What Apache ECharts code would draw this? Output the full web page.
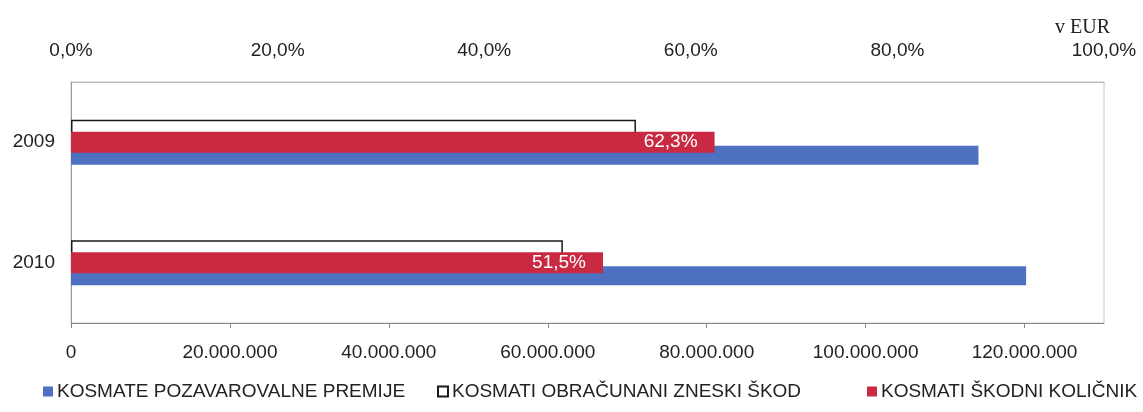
<!DOCTYPE html>
<html>
<head>
<meta charset="utf-8">
<script src="https://cdn.jsdelivr.net/npm/echarts@6/dist/echarts.min.js"></script>
<style>html,body{margin:0;padding:0;background:#fff;}#c{width:1143px;height:412px;}</style>
</head>
<body>
<div id="c"></div>
<script>
const categories = ['2009', '2010'];
const premiums = [114200000, 120200000];
const claims = [71100000, 61900000];
const ratios = [62.3, 51.5];
const amountTicks = [0, 20000000, 40000000, 60000000, 80000000, 100000000, 120000000];
const percentTicks = [0, 20, 40, 60, 80, 100];
const seriesNames = ['KOSMATE POZAVAROVALNE PREMIJE', 'KOSMATI OBRAČUNANI ZNESKI ŠKOD', 'KOSMATI ŠKODNI KOLIČNIK'];

function fmtAmount(v) {
  return String(Math.round(v)).replace(/\B(?=(\d{3})+(?!\d))/g, '.');
}
function fmtPct(v) {
  return v.toFixed(1).replace('.', ',') + '%';
}
const FONT = 'Liberation Sans';
const legendBase = {
  top: 377, itemWidth: 10, itemHeight: 10, icon: 'rect', itemGap: 0,
  textStyle: { fontFamily: FONT, fontSize: 19, color: '#222', padding: [0, 0, 0, -1] }
};
const chart = echarts.init(document.getElementById('c'));
chart.setOption({
  animation: false,
  backgroundColor: '#fff',
  title: {
    text: 'v EUR', right: 28, top: 13,
    textStyle: { fontFamily: 'Liberation Serif', fontSize: 20, fontWeight: 'normal', color: '#222' }
  },
  grid: { left: 71, right: 39, top: 82, bottom: 89, show: true, borderColor: '#c8c8c8', borderWidth: 1 },
  legend: [
    Object.assign({}, legendBase, { left: 38, data: [seriesNames[0]] }),
    Object.assign({}, legendBase, { left: 432, data: [seriesNames[1]] }),
    Object.assign({}, legendBase, { left: 862, data: [seriesNames[2]] })
  ],
  xAxis: [
    {
      type: 'value', position: 'bottom', min: 0, max: 130000000, interval: 20000000,
      axisLine: { show: true, lineStyle: { color: '#888', width: 1 } },
      axisTick: { show: true, length: 5, lineStyle: { color: '#888' }, customValues: amountTicks },
      splitLine: { show: false },
      axisLabel: {
        margin: 20, fontFamily: FONT, fontSize: 19, color: '#222',
        customValues: amountTicks,
        formatter: v => fmtAmount(v)
      }
    },
    {
      type: 'value', position: 'top', min: 0, max: 100, interval: 20,
      axisLine: { show: true, lineStyle: { color: '#aaa', width: 1, type: 'dotted' } },
      axisTick: { show: false },
      splitLine: { show: false },
      axisLabel: {
        margin: 22, fontFamily: FONT, fontSize: 19, color: '#222',
        customValues: percentTicks,
        formatter: v => fmtPct(v)
      }
    }
  ],
  yAxis: [
    {
      type: 'category', data: categories, inverse: true,
      axisLine: { show: true, lineStyle: { color: '#999' } },
      axisTick: { show: false },
      axisLabel: { margin: 16, fontFamily: FONT, fontSize: 19, color: '#222' }
    },
    {
      type: 'category', data: categories, inverse: true, show: false
    }
  ],
  series: [
    {
      name: seriesNames[1], type: 'bar', xAxisIndex: 0, yAxisIndex: 0,
      data: claims, barWidth: 19, barGap: '37%',
      itemStyle: { color: '#ffffff', borderColor: '#1a1a1a', borderWidth: 1.5 }
    },
    {
      name: seriesNames[0], type: 'bar', xAxisIndex: 0, yAxisIndex: 0,
      data: premiums, barWidth: 19, barGap: '37%',
      itemStyle: { color: '#4d70c0' }
    },
    {
      name: seriesNames[2], type: 'bar', xAxisIndex: 1, yAxisIndex: 1,
      data: ratios, barWidth: 21,
      itemStyle: { color: '#c92a41' },
      label: {
        show: true, position: 'insideRight', distance: 17,
        fontFamily: FONT, fontSize: 19, color: '#fff',
        formatter: p => fmtPct(p.value)
      }
    }
  ]
});
</script>
</body>
</html>
